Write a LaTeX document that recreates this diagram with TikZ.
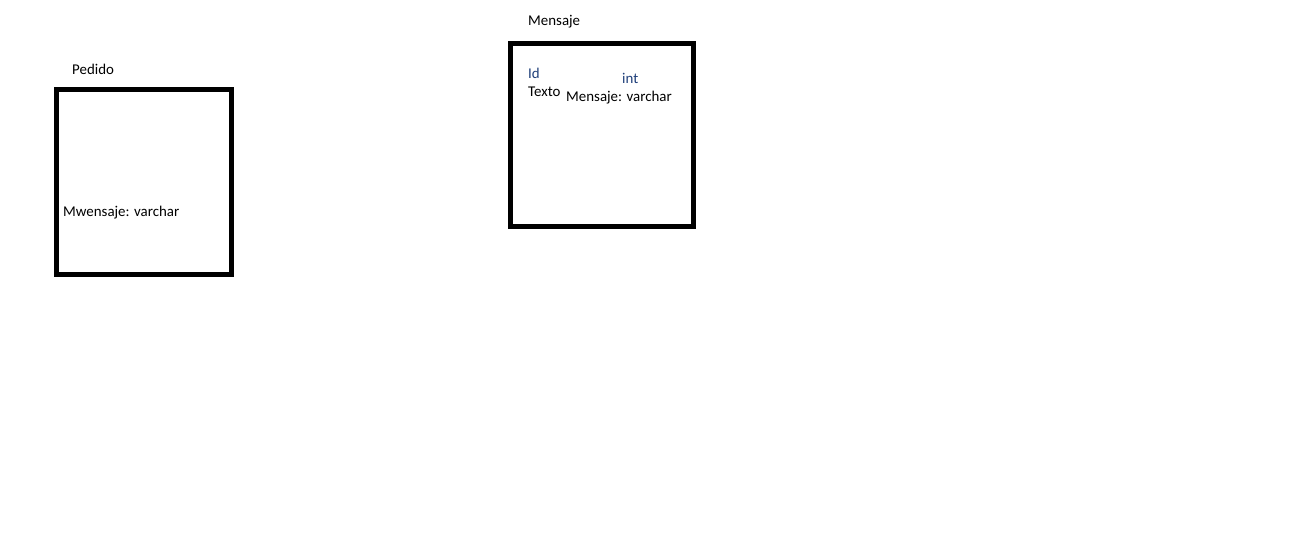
\documentclass[tikz,border=0pt]{standalone}
\usepackage{fontspec}
\setmainfont{Carlito}
\definecolor{idblue}{HTML}{1F3F7A}
\begin{document}
\begin{tikzpicture}[x=1pt,y=-1pt,
  tbl/.style={draw=black,line width=5pt},
  lbl/.style={inner sep=0pt,anchor=base west,font=\fontsize{14.9}{17}\selectfont}]
\useasboundingbox[fill=white] (0,0) rectangle (1306,537);
\draw[tbl] (56.5,89.5) rectangle (231,274.5);
\draw[tbl] (510,44) rectangle (693.5,226.5);
\node[lbl] (pedido) at (72,75) {Pedido};
\node[lbl] (mensaje) at (528,26) {Mensaje};
\node[lbl,text=idblue] (id) at (528,79) {Id};
\node[lbl,text=idblue] (int) at (622,84) {int};
\node[lbl] (texto) at (528,97) {Texto};
\node[lbl] (mv) at (566,102) {Mensaje: varchar};
\node[lbl] (mw) at (63,217) {Mwensaje: varchar};
\end{tikzpicture}
\end{document}
